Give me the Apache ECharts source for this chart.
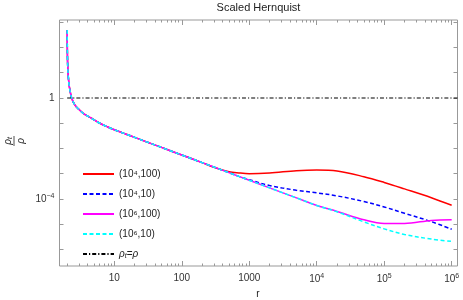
<!DOCTYPE html>
<html><head><meta charset="utf-8">
<script src="https://cdn.jsdelivr.net/npm/echarts@6/dist/echarts.min.js"></script>
<style>html,body{margin:0;padding:0;background:#fff}#c{width:463px;height:300px}</style>
</head><body><div id="c"></div>
<script>
const titleText = 'Scaled Hernquist';
const rValues = [2.004, 2.01, 2.02, 2.04, 2.08, 2.15, 2.33, 2.6, 3, 3.5, 4.5, 6, 8, 10, 15, 20, 30, 50, 100, 200, 300, 500, 700, 1000, 2000, 5000, 1e4, 2e4, 5e4, 1e5, 2e5, 5e5, 1e6];
const red4_100 = [490, 116, 45, 17.6, 6.9, 2.9, 1.0, 0.537, 0.347, 0.240, 0.162, 0.102, 0.0708, 0.0550, 0.0366, 0.0275, 0.0183, 0.0110, 0.00550, 0.00275,
  0.00180, 0.00120, 0.00107, 0.00100, 0.00107, 0.00132, 0.00141, 0.00129, 0.00076, 0.00045, 0.00025, 0.000112, 0.000056];
const blue4_10 = [490, 116, 45, 17.6, 6.9, 2.9, 1.0, 0.537, 0.347, 0.240, 0.162, 0.102, 0.0708, 0.0550, 0.0366, 0.0275, 0.0183, 0.0110, 0.00550, 0.00275,
  0.00183, 0.00110, 0.000785, 0.000575, 0.00034, 0.00022, 0.000174, 0.000132, 0.000079, 0.000048, 0.000027, 0.0000126, 0.0000063];
const mag6_100 = [490, 116, 45, 17.6, 6.9, 2.9, 1.0, 0.537, 0.347, 0.240, 0.162, 0.102, 0.0708, 0.0550, 0.0366, 0.0275, 0.0183, 0.0110, 0.00550, 0.00275,
  0.00183, 0.00110, 0.000785, 0.000550, 0.000275, 0.000110, 0.000055, 0.000032, 0.000015, 0.0000107, 0.0000107, 0.0000141, 0.0000148];
const cyan6_10 = [490, 116, 45, 17.6, 6.9, 2.9, 1.0, 0.537, 0.347, 0.240, 0.162, 0.102, 0.0708, 0.0550, 0.0366, 0.0275, 0.0183, 0.0110, 0.00550, 0.00275,
  0.00183, 0.00110, 0.000785, 0.000550, 0.000275, 0.000110, 0.000055, 0.000031, 0.0000123, 0.0000065, 0.0000039, 0.00000257, 0.00000208];
const eqR = [2, 1.22e6];
const eqV = [1, 1];
const seriesNames = ['(10\u2074,100)', '(10\u2074,10)', '(10\u2076,100)', '(10\u2076,10)', '\u03c1t=\u03c1'];
const xMajorTicks = [10, 100, 1000, 1e4, 1e5, 1e6];
const yTickValues = [1e-6, 1e-5, 1e-4, 1e-3, 1e-2, 1e-1, 1, 10, 100, 1000];
const yLabelValues = [1e-4, 1];

const xMin = 1.54, xMax = 1.22e6, yMin = 2.2e-7, yMax = 1230;
const xMinorTicks = [];
for (let d = 1; d <= 1e6; d *= 10) for (let k = 2; k <= 9; k++) { const v = k * d; if (v > xMin && v < xMax) xMinorTicks.push(v); }

const pairs = (xs, ys) => xs.map((x, i) => [x, ys[i]]);
const supFmt = v => {
  const e = Math.round(Math.log10(v));
  if (e === 0) return '1';
  if (e >= 1 && e <= 3) return String(Math.round(v));
  return '10{s|' + (e < 0 ? '\u2212' + (-e) : e) + '}';
};
const labelStyle = { color: '#333', fontSize: 10, fontFamily: 'Liberation Sans, Arial', rich: { s: { fontSize: 7, verticalAlign: 'top', padding: [0, 0, 6, 0], color: '#333', fontFamily: 'Liberation Sans, Arial' } } };
const tickCol = '#999';

function xAx(pos, major, withLabels) {
  return {
    type: 'log', logBase: 10, min: xMin, max: xMax, position: pos, gridIndex: 0,
    axisLine: { show: false }, splitLine: { show: false },
    axisTick: { show: true, inside: true, length: major ? 5 : 2.5, lineStyle: { color: tickCol, width: 1 }, customValues: major ? xMajorTicks : xMinorTicks },
    axisLabel: withLabels ? Object.assign({ show: true, margin: 7, customValues: xMajorTicks, formatter: supFmt }, labelStyle) : { show: false }
  };
}
function yAx(pos, withLabels) {
  return {
    type: 'log', logBase: 10, min: yMin, max: yMax, position: pos, gridIndex: 0,
    axisLine: { show: false }, splitLine: { show: false },
    axisTick: { show: true, inside: true, length: 4, lineStyle: { color: tickCol, width: 1 }, customValues: yTickValues },
    axisLabel: withLabels ? Object.assign({ show: true, margin: 5, customValues: yLabelValues, formatter: supFmt }, labelStyle) : { show: false }
  };
}

const chart = echarts.init(document.getElementById('c'), null, { renderer: 'canvas' });
const lineBase = { type: 'line', showSymbol: false, symbol: 'none', smooth: 0.35, xAxisIndex: 0, yAxisIndex: 0 };
chart.setOption({
  animation: false,
  backgroundColor: '#fff',
  grid: { left: 59.5, right: 5.5, top: 20, bottom: 34, show: true, borderColor: '#999', borderWidth: 1, backgroundColor: 'transparent' },
  xAxis: [xAx('bottom', true, true), xAx('bottom', false, false), xAx('top', true, false), xAx('top', false, false)],
  yAxis: [yAx('left', true), yAx('right', false)],
  legend: {
    orient: 'vertical', left: 77, top: 164, itemWidth: 31, itemHeight: 8, itemGap: 10,
    itemStyle: { opacity: 0 },
    data: seriesNames,
    textStyle: { fontSize: 10, color: '#222', fontFamily: 'Liberation Sans, Arial', rich: {
      i: { fontSize: 10, fontStyle: 'italic', color: '#222' },
      sb: { fontSize: 7, fontStyle: 'italic', verticalAlign: 'bottom', padding: [5, 0, 0, 0], color: '#222' },
      n: { fontSize: 10, color: '#222' } } },
    formatter: name => name === seriesNames[4] ? '{i|\u03c1}{sb|t}{n|=}{i|\u03c1}' : name
  },
  graphic: [
    { type: 'text', x: 258.5, y: 8, style: { text: titleText, fontSize: 11, fill: '#222', align: 'center', verticalAlign: 'middle', fontFamily: 'Liberation Sans, Arial' } },
    { type: 'group', x: 14, y: 141, rotation: Math.PI / 2, children: [
      { type: 'text', x: 0, y: -6, style: { text: '{i|\u03c1}{sb|t}', rich: { i: { fontSize: 10, fontStyle: 'italic', fill: '#222' }, sb: { fontSize: 7, fontStyle: 'italic', fill: '#222', padding: [5, 0, 0, 0] } }, align: 'center', verticalAlign: 'middle' } },
      { type: 'line', shape: { x1: -5, y1: 0, x2: 5, y2: 0 }, style: { stroke: '#222', lineWidth: 0.8 } },
      { type: 'text', x: 0, y: 7, style: { text: '\u03c1', fontSize: 10, fontStyle: 'italic', fill: '#222', align: 'center', verticalAlign: 'middle' } }
    ] },
    { type: 'text', x: 258, y: 294, style: { text: 'r', fontSize: 10, fill: '#222', align: 'center', verticalAlign: 'middle', fontFamily: 'Liberation Sans, Arial' } }
  ],
  series: [
    Object.assign({}, lineBase, { name: seriesNames[0], data: pairs(rValues, red4_100), lineStyle: { color: '#ff0000', width: 1.5 }, itemStyle: { color: '#ff0000' } }),
    Object.assign({}, lineBase, { name: seriesNames[1], data: pairs(rValues, blue4_10), lineStyle: { color: '#0000ff', width: 1.5, type: [4, 2.5] }, itemStyle: { color: '#0000ff' } }),
    Object.assign({}, lineBase, { name: seriesNames[2], data: pairs(rValues, mag6_100), lineStyle: { color: '#ff00ff', width: 1.5 }, itemStyle: { color: '#ff00ff' } }),
    Object.assign({}, lineBase, { name: seriesNames[3], data: pairs(rValues, cyan6_10), lineStyle: { color: '#00ffff', width: 1.5, type: [4, 2.5] }, itemStyle: { color: '#00ffff' } }),
    Object.assign({}, lineBase, { name: seriesNames[4], smooth: false, data: pairs(eqR, eqV), lineStyle: { color: '#000', width: 1.2, type: [4, 2, 1.2, 2] }, itemStyle: { color: '#000' } })
  ]
});
</script></body></html>
